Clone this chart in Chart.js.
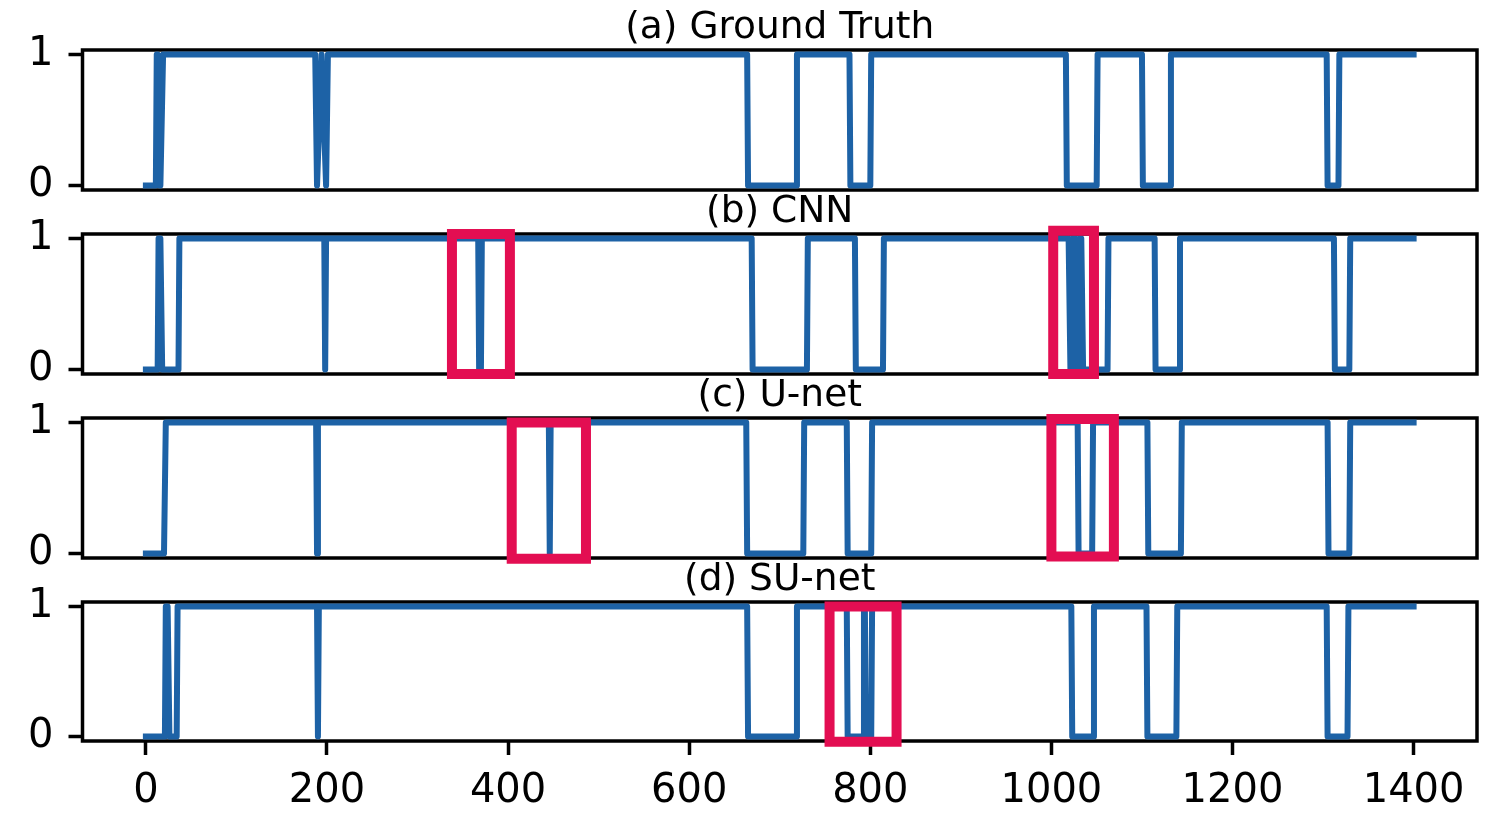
<!DOCTYPE html>
<html>
<head>
<meta charset="utf-8">
<script src="https://cdn.jsdelivr.net/npm/chart.js@4.4.1/dist/chart.umd.min.js"></script>
<style>
  html, body { margin: 0; padding: 0; background: #fff; }
  body { width: 1492px; height: 814px; position: relative; overflow: hidden; }
  .panel { position: absolute; left: 0; width: 1492px; }
</style>
</head>
<body>
<div class="panel" style="top:0px;height:229px"><canvas id="c0"></canvas></div>
<div class="panel" style="top:184px;height:229px"><canvas id="c1"></canvas></div>
<div class="panel" style="top:368px;height:229px"><canvas id="c2"></canvas></div>
<div class="panel" style="top:552px;height:262px"><canvas id="c3"></canvas></div>
<script>
// tick labels
const xTicks = [0, 200, 400, 600, 800, 1000, 1200, 1400];
const yTicks = [0, 1];
const titles = ["(a) Ground Truth", "(b) CNN", "(c) U-net", "(d) SU-net"];

// (a) ground truth: corner points of the 0/1 signal
const gtX = [0, 11, 12, 13, 15, 16, 19, 187, 189, 194, 199, 201, 664, 665, 718, 719, 777, 778, 800, 801,
  1016, 1017, 1050, 1051, 1100, 1101, 1131, 1132, 1304, 1305, 1317, 1318, 1400];
const gtY = [0, 0, 1, 1, 0, 0, 1, 1, 0, 1, 0, 1, 1, 0, 0, 1, 1, 0, 0, 1,
  1, 0, 0, 1, 1, 0, 0, 1, 1, 0, 0, 1, 1];

// (b) CNN
const cnnX = [0, 13, 14, 16, 18, 36, 37, 197, 198, 199, 367, 368, 370, 371, 669, 670, 730, 731, 783, 784, 814, 815,
  1019, 1021, 1023, 1024, 1026, 1028, 1030, 1031, 1033, 1035, 1062, 1063, 1114, 1115, 1141, 1142, 1312, 1313, 1329, 1330, 1400];
const cnnY = [0, 0, 1, 1, 0, 0, 1, 1, 0, 1, 1, 0, 0, 1, 1, 0, 0, 1, 1, 0, 0, 1,
  1, 0, 0, 1, 1, 0, 0, 1, 1, 0, 0, 1, 1, 0, 0, 1, 1, 0, 0, 1, 1];

// (c) U-net
const unetX = [0, 20, 22, 188, 189, 190, 445, 446, 447, 663, 664, 726, 727, 774, 775, 801, 802,
  1029, 1030, 1045, 1046, 1106, 1107, 1143, 1144, 1305, 1306, 1329, 1330, 1400];
const unetY = [0, 0, 1, 1, 0, 1, 1, 0, 1, 1, 0, 0, 1, 1, 0, 0, 1,
  1, 0, 0, 1, 1, 0, 0, 1, 1, 0, 0, 1, 1];

// (d) SU-net
const sunetX = [0, 21, 22, 24, 26, 34, 35, 189, 190, 191, 664, 665, 718, 719, 774, 775, 792, 793, 794, 795, 801, 802,
  1022, 1023, 1046, 1047, 1105, 1106, 1138, 1139, 1304, 1305, 1327, 1328, 1400];
const sunetY = [0, 0, 1, 1, 0, 0, 1, 1, 0, 1, 1, 0, 0, 1, 1, 0, 0, 1, 1, 0, 0, 1,
  1, 0, 0, 1, 1, 0, 0, 1, 1, 0, 0, 1, 1];

// highlighted regions [xFrom, xTo, yFrom, yTo]
const gtBoxes = [];
const cnnBoxes = [[338, 402, -0.035, 1.035], [1002, 1047, -0.035, 1.06]];
const unetBoxes = [[404, 486, -0.04, 1.0], [1000, 1069, -0.023, 1.027]];
const sunetBoxes = [[755, 829, -0.04, 1.0]];

const blue = "#1d62a6";
const red = "#e30e52";

function toPoints(xs, ys) {
  return xs.map((x, i) => ({ x: x, y: ys[i] }));
}

function boxPoints(b) {
  return [
    { x: b[0], y: b[2] }, { x: b[1], y: b[2] }, { x: b[1], y: b[3] },
    { x: b[0], y: b[3] }, { x: b[0], y: b[2] },
  ];
}

// frame round the plot area and the panel title
const frameTitle = {
  id: "frameTitle",
  beforeDatasetsDraw(chart) {
    const { ctx, chartArea: a } = chart;
    ctx.save();
    ctx.lineWidth = 3.5;
    ctx.strokeStyle = "#000";
    ctx.strokeRect(a.left, a.top, a.right - a.left, a.bottom - a.top);
    ctx.restore();
  },
  afterDraw(chart, args, opts) {
    const { ctx, chartArea: a } = chart;
    ctx.save();
    ctx.font = '37.5px "DejaVu Sans"';
    ctx.fillStyle = "#000";
    ctx.textAlign = "center";
    ctx.textBaseline = "alphabetic";
    ctx.fillText(opts.text, (a.left + a.right) / 2, a.top - 12);
    ctx.restore();
  },
};

function createPanel(id, title, xs, ys, boxes, showX) {
  const datasets = [
    {
      data: toPoints(xs, ys),
      borderColor: blue,
      borderWidth: 6,
      borderJoinStyle: "round",
      borderCapStyle: "square",
      pointRadius: 0,
      tension: 0,
      order: 1,
    },
  ];
  boxes.forEach((b) => {
    datasets.push({
      data: boxPoints(b),
      borderColor: red,
      borderWidth: 10,
      borderJoinStyle: "miter",
      borderCapStyle: "square",
      pointRadius: 0,
      tension: 0,
      clip: false,
      order: 0,
    });
  });

  const tickFont = { family: "DejaVu Sans", size: 40 };

  new Chart(document.getElementById(id), {
    type: "line",
    data: { datasets: datasets },
    plugins: [frameTitle],
    options: {
      responsive: true,
      maintainAspectRatio: false,
      animation: false,
      events: [],
      layout: { padding: { left: 0, right: 15, top: 50, bottom: 0 } },
      plugins: {
        legend: { display: false },
        tooltip: { enabled: false },
        frameTitle: { text: title },
      },
      scales: {
        x: {
          type: "linear",
          min: -70,
          max: 1470,
          display: showX,
          afterBuildTicks: (s) => { s.ticks = xTicks.map((v) => ({ value: v })); },
          afterFit: (s) => { if (showX) s.height = 73; },
          grid: { drawOnChartArea: false, drawTicks: true, tickLength: 14, tickWidth: 3.5, tickColor: "#000" },
          border: { display: false },
          ticks: { color: "#000", padding: 13, maxRotation: 0, font: tickFont, callback: (v) => String(v) },
        },
        y: {
          type: "linear",
          min: -0.035,
          max: 1.035,
          afterBuildTicks: (s) => { s.ticks = yTicks.map((v) => ({ value: v })); },
          afterFit: (s) => { s.width = 82.5; },
          grid: { drawOnChartArea: false, drawTicks: true, tickLength: 14, tickWidth: 3.5, tickColor: "#000" },
          border: { display: false },
          ticks: { color: "#000", padding: 15, font: tickFont, callback: (v) => String(v) },
        },
      },
    },
  });
}

createPanel("c0", titles[0], gtX, gtY, gtBoxes, false);
createPanel("c1", titles[1], cnnX, cnnY, cnnBoxes, false);
createPanel("c2", titles[2], unetX, unetY, unetBoxes, false);
createPanel("c3", titles[3], sunetX, sunetY, sunetBoxes, true);
</script>
</body>
</html>
